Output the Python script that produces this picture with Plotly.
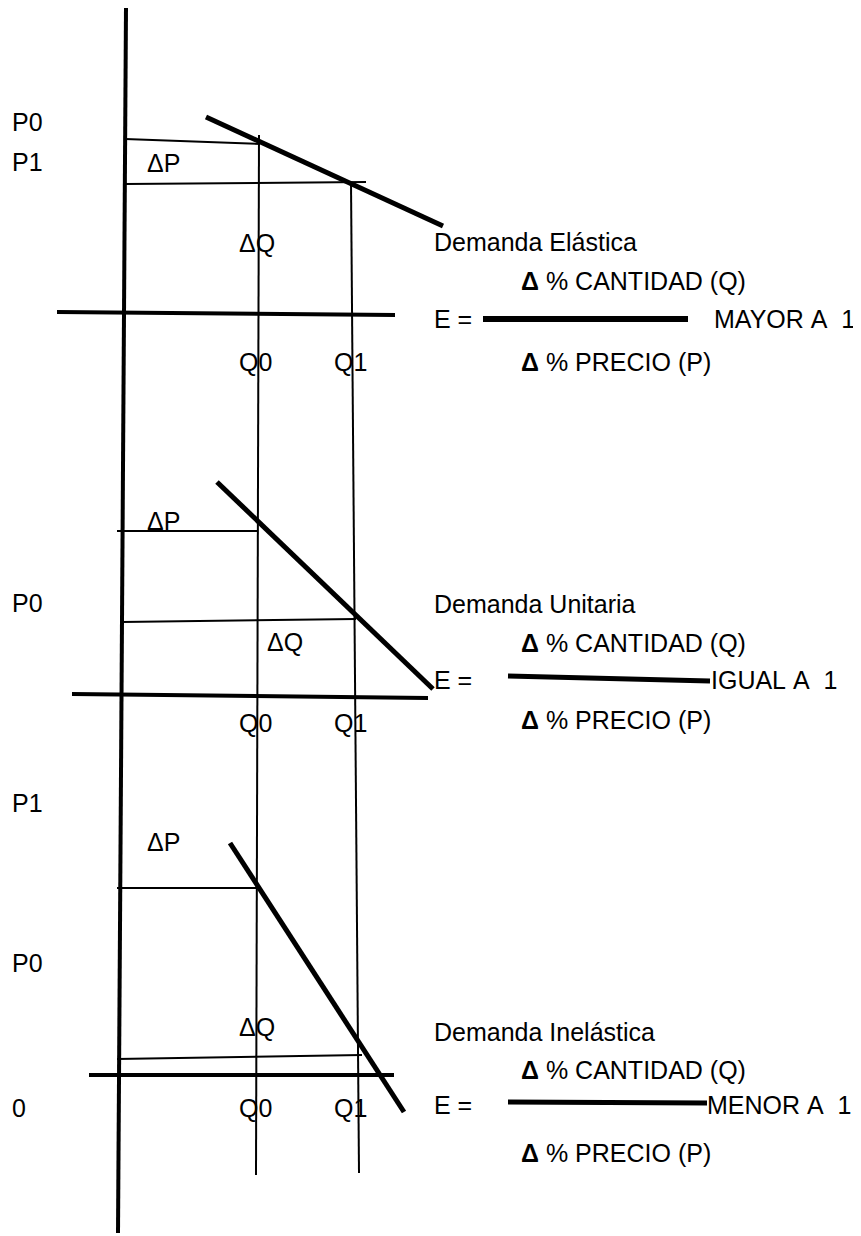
import plotly.graph_objects as go

# ---------------- data (diagram coordinates in picture pixels) ----------------
# main vertical price axis
axis_v_x = [126, 118]
axis_v_y = [7, 1233]

# horizontal quantity axes (one per panel)
axes_h_x = [[57, 395], [72, 428], [89, 394]]
axes_h_y = [[312, 315], [694, 698], [1075, 1075]]

# demand curves: elastic, unitary, inelastic
demand_x = [[206, 443], [217, 433], [230, 404]]
demand_y = [[117, 226], [482, 689], [843, 1112]]

# price guide lines (thin horizontals)
price_x = [[125, 260], [125, 366], [117, 258], [122, 356], [117, 257], [117, 362]]
price_y = [[139, 144], [184, 182], [531, 531], [622, 619], [888, 888], [1059, 1055]]

# quantity guide lines Q0, Q1 (thin verticals)
qty_x = [[259, 256], [351, 359]]
qty_y = [[135, 1175], [183, 1173]]

# fraction bars of the formulas
frac_x = [[483, 688], [508, 710], [508, 707]]
frac_y = [[319, 319], [676, 681], [1102, 1103]]
frac_w = [6, 5, 5]

# small axis labels
lab_text = ["P0", "P1", "ΔP", "ΔQ", "Q0", "Q1",
            "ΔP", "P0", "ΔQ", "Q0", "Q1",
            "P1", "ΔP", "P0", "ΔQ", "0", "Q0", "Q1"]
lab_x = [13, 13, 148, 240, 240, 335,
         148, 13, 268, 240, 335,
         13, 148, 13, 240, 13, 240, 335]
lab_y = [122, 162, 163, 243, 362, 362,
         521, 603, 642, 723, 723,
         803, 842, 963, 1027, 1108, 1108, 1108]

# formula texts
titles = ["Demanda Elástica", "Demanda Unitaria", "Demanda Inelástica"]
results = ["MAYOR\u00a0A\u00a0\u00a01", "IGUAL\u00a0A\u00a0\u00a01", "MENOR\u00a0A\u00a0\u00a01"]
numerator = "<b>Δ</b> % CANTIDAD (Q)"
denominator = "<b>Δ</b> % PRECIO (P)"
title_y = [242, 604, 1032]
num_y = [281, 643, 1070]
eq_y = [319, 680, 1105]
res_x = [715, 712, 708]
den_y = [362, 720, 1153]

# ---------------- figure ----------------
fig = go.Figure()

def seg(xs, ys, w):
    fig.add_trace(go.Scatter(x=xs, y=ys, mode="lines",
                             line=dict(color="black", width=w),
                             hoverinfo="skip", showlegend=False))

seg(axis_v_x, axis_v_y, 4)
for xs, ys in zip(axes_h_x, axes_h_y):
    seg(xs, ys, 4)
for xs, ys in zip(demand_x, demand_y):
    seg(xs, ys, 5)
for xs, ys in zip(price_x, price_y):
    seg(xs, ys, 2)
for xs, ys in zip(qty_x, qty_y):
    seg(xs, ys, 2)
for xs, ys, w in zip(frac_x, frac_y, frac_w):
    seg(xs, ys, w)

FONT = dict(family="Liberation Sans, Arial, sans-serif", size=25, color="black")
ann = []
def txt(x, y, t):
    ann.append(dict(x=x, y=y, text=t, xref="x", yref="y", showarrow=False,
                    xanchor="left", yanchor="middle", font=FONT, borderpad=0))

for t, x, y in zip(lab_text, lab_x, lab_y):
    txt(x - 2, y, t)
for i in range(3):
    txt(433, title_y[i], titles[i])
    txt(520, num_y[i], numerator)
    txt(433, eq_y[i], "E =")
    txt(res_x[i] - 2, eq_y[i], results[i])
    txt(520, den_y[i], denominator)

# page body has an 8px margin: the figure starts at pixel 8
PAGE_MARGIN = 8
fig.update_layout(
    width=861 - PAGE_MARGIN, height=1236 - PAGE_MARGIN,
    margin=dict(l=0, r=0, t=0, b=0),
    paper_bgcolor="white", plot_bgcolor="white",
    xaxis=dict(range=[PAGE_MARGIN, 861], visible=False, fixedrange=True),
    yaxis=dict(range=[1236, PAGE_MARGIN], visible=False, fixedrange=True),
    annotations=ann,
    showlegend=False,
)

fig.write_html("out.html")
